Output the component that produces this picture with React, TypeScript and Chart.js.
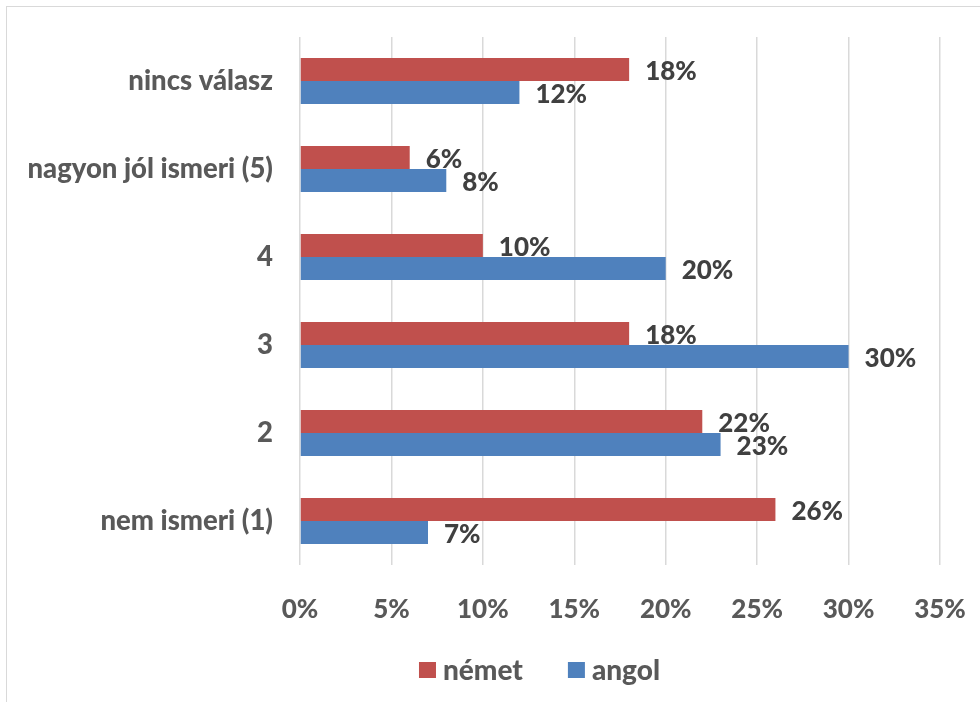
import React, { useEffect, useRef } from "react";
import { Chart, registerables } from "chart.js";

Chart.register(...registerables);

const categories = [
  "nincs válasz",
  "nagyon jól ismeri (5)",
  "4",
  "3",
  "2",
  "nem ismeri (1)",
];
const nemetValues = [18, 6, 10, 18, 22, 26];
const angolValues = [12, 8, 20, 30, 23, 7];
const seriesNames = ["német", "angol"];
const seriesColors = ["#C0504D", "#4F81BD"];
const xTicks = [0, 5, 10, 15, 20, 25, 30, 35];

const FONT = "Lato, 'Open Sans', sans-serif";
const WEIGHT = "900";
const SIZE = 26;

const valueLabelPlugin = {
  id: "valueLabels",
  afterDatasetsDraw(chart: any) {
    const ctx = chart.ctx;
    ctx.save();
    ctx.font = `${WEIGHT} ${SIZE}px ${FONT}`;
    ctx.fillStyle = "#404040";
    ctx.textAlign = "left";
    ctx.textBaseline = "middle";
    chart.data.datasets.forEach((ds: any, di: number) => {
      const meta = chart.getDatasetMeta(di);
      meta.data.forEach((bar: any, i: number) => {
        const v = ds.data[i];
        ctx.fillText(`${v}%`, bar.x + 16, bar.y + 2);
      });
    });
    ctx.restore();
  },
};

// Bottom legend drawn from the chart's datasets
const bottomLegendPlugin = {
  id: "bottomLegend",
  afterDraw(chart: any) {
    const ctx = chart.ctx;
    ctx.save();
    ctx.font = `${WEIGHT} 28px ${FONT}`;
    ctx.textBaseline = "middle";
    ctx.textAlign = "left";
    const boxW = 17;
    const boxH = 16;
    const gapBoxText = 7;
    const gapItems = 45;
    const items = chart.data.datasets.map((ds: any) => ({
      text: ds.label,
      color: ds.backgroundColor,
      w: ctx.measureText(ds.label).width,
    }));
    const total =
      items.reduce((s: number, it: any) => s + boxW + gapBoxText + it.w, 0) +
      gapItems * (items.length - 1);
    const cy = 670;
    let x = 539.5 - total / 2;
    items.forEach((it: any) => {
      ctx.fillStyle = it.color;
      ctx.fillRect(x, cy - boxH / 2, boxW, boxH);
      x += boxW + gapBoxText;
      ctx.fillStyle = "#595959";
      ctx.fillText(it.text, x, cy + 1);
      x += it.w + gapItems;
    });
    ctx.restore();
  },
};

export default function App() {
  const canvasRef = useRef<HTMLCanvasElement | null>(null);

  useEffect(() => {
    if (!canvasRef.current) return;
    const chart = new Chart(canvasRef.current, {
      type: "bar",
      data: {
        labels: categories,
        datasets: [
          {
            label: seriesNames[0],
            data: nemetValues,
            backgroundColor: seriesColors[0],
            borderWidth: 0,
            categoryPercentage: 0.523,
            barPercentage: 1,
          },
          {
            label: seriesNames[1],
            data: angolValues,
            backgroundColor: seriesColors[1],
            borderWidth: 0,
            categoryPercentage: 0.523,
            barPercentage: 1,
          },
        ],
      },
      options: {
        indexAxis: "y",
        animation: false,
        responsive: false,
        maintainAspectRatio: false,
        layout: { padding: { left: 0, right: 40, top: 37, bottom: 67 } },
        plugins: {
          tooltip: { enabled: false },
          legend: { display: false },
        },
        scales: {
          x: {
            min: 0,
            max: 35,
            afterBuildTicks: (scale: any) => {
              scale.ticks = xTicks.map((v) => ({ value: v }));
            },
            afterFit: (scale: any) => {
              scale.height = 70;
            },
            grid: {
              color: "#D9D9D9",
              lineWidth: 1.5,
              drawTicks: true,
              tickLength: 18,
              tickColor: "rgba(0,0,0,0)",
            },
            border: { display: false },
            ticks: {
              padding: 11,
              maxRotation: 0,
              color: "#595959",
              font: { family: FONT, size: SIZE, weight: WEIGHT },
              callback: (v: any) => `${v}%`,
            },
          },
          y: {
            afterFit: (scale: any) => {
              scale.width = 300;
            },
            grid: {
              display: true,
              drawOnChartArea: false,
              drawTicks: true,
              tickLength: 20,
              tickColor: "rgba(0,0,0,0)",
            },
            border: { display: false },
            ticks: {
              padding: 7,
              color: "#595959",
              font: { family: FONT, size: 27.5, weight: WEIGHT },
            },
          },
        },
      },
      plugins: [valueLabelPlugin, bottomLegendPlugin],
    } as any);
    return () => chart.destroy();
  }, []);

  return (
    <div
      style={{
        position: "fixed",
        left: 0,
        top: 0,
        width: 980,
        height: 702,
        background: "#fff",
      }}
    >
      <div
        style={{
          position: "absolute",
          left: 6,
          top: 6,
          width: 974,
          height: 696,
          borderTop: "1.5px solid #D9D9D9",
          borderLeft: "1.5px solid #D9D9D9",
        }}
      />
      <canvas
        ref={canvasRef}
        width={980}
        height={702}
        style={{ position: "absolute", left: 0, top: 0, width: 980, height: 702 }}
      />
    </div>
  );
}
